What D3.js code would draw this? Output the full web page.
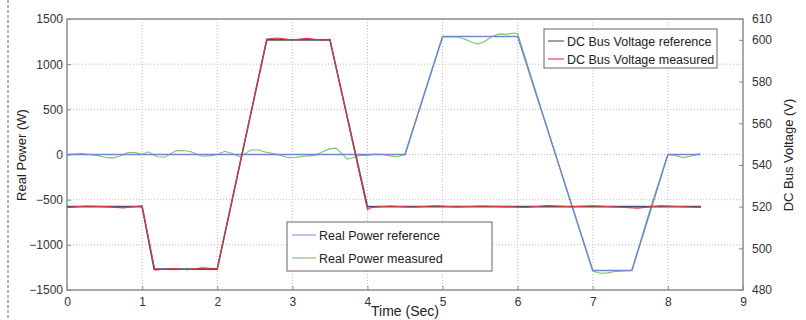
<!DOCTYPE html>
<html lang="en">
<head>
<meta charset="UTF-8">
<title>Real Power and DC Bus Voltage</title>
<script src="https://cdnjs.cloudflare.com/ajax/libs/d3/7.9.0/d3.min.js"></script>
<style>
    body { margin: 0; background: white; }
    svg { display: block; font-family: "Liberation Sans", Arial, sans-serif; }
    .tick text { fill: #333; font-size: 12px; }
</style>
</head>
<body>
<svg id="chart" width="806" height="320"></svg>
<script>
// axis ticks
const timeTicks = [0, 1, 2, 3, 4, 5, 6, 7, 8, 9];
const powerTicks = [-1500, -1000, -500, 0, 500, 1000, 1500];
const voltTicks = [480, 500, 520, 540, 560, 580, 600, 610];

// real power reference (W)
const powerRefTime = [0, 4.5, 5.0, 6.0, 7.0, 7.52, 8.0, 8.43];
const powerRefVal  = [0, 0, 1305, 1305, -1285, -1285, 0, 0];

// real power measured (W)
const powerMeasTime = [0, 0.1, 0.2, 0.3, 0.4, 0.5, 0.6, 0.7, 0.8, 0.9, 1.0, 1.08, 1.2, 1.3, 1.45, 1.55, 1.65, 1.8, 1.9, 2.0, 2.1, 2.2, 2.3,
    2.45, 2.55, 2.65, 2.75, 2.85, 2.95, 3.05, 3.2, 3.3, 3.4, 3.5, 3.58, 3.66, 3.73, 3.8, 3.9, 4.0, 4.1, 4.2, 4.3, 4.4, 4.5,
    4.75, 5.0, 5.2, 5.3, 5.4, 5.47, 5.55, 5.65, 5.75, 5.85, 5.95, 6.0, 6.5, 7.0, 7.1, 7.2, 7.3, 7.52, 7.75, 8.0, 8.1, 8.2, 8.3, 8.43];
const powerMeasVal  = [0, 5, 10, 0, -10, -30, -40, -20, 20, 25, 0, 30, -25, -30, 40, 45, 30, -20, -15, 0, 35, 10, -25,
    50, 50, 25, 10, -10, -35, -30, -15, -10, 30, 65, 70, 10, -50, -35, -10, -10, 5, 0, -15, -25, 0,
    650, 1300, 1300, 1275, 1240, 1225, 1245, 1300, 1335, 1330, 1345, 1340, 10, -1290, -1315, -1310, -1295, -1285, -640, 0, -10, -35, -20, 10];

// DC bus voltage reference (V)
const voltRefTime = [0, 1.0, 1.16, 2.0, 2.66, 3.5, 4.0, 8.44];
const voltRefVal  = [520, 520, 490, 490, 600, 600, 520, 520];

// DC bus voltage measured (V)
const voltMeasTime = [0, 0.25, 0.5, 0.75, 1.0, 1.17, 1.4, 1.6, 1.8, 2.0, 2.66, 2.8, 3.0, 3.2, 3.4, 3.5, 4.0, 4.05,
    4.3, 4.6, 4.9, 5.2, 5.5, 5.8, 6.1, 6.4, 6.7, 7.0, 7.3, 7.6, 7.9, 8.2, 8.44];
const voltMeasVal  = [519.5, 520.3, 520, 519.4, 520.4, 489.5, 490.3, 489.7, 490.6, 490.2, 600.4, 600.9, 600, 600.7, 599.8, 600.3, 518.5, 519.6,
    520.3, 519.7, 520.4, 519.8, 520.3, 520, 519.6, 520.5, 519.9, 520.4, 519.8, 519.3, 520.4, 519.9, 519.6];

const svg = d3.select('#chart');
const plotL = 67, plotR = 743, plotT = 19, plotB = 290;

const x = d3.scaleLinear().domain([0, 9]).range([plotL, plotR]);
const yP = d3.scaleLinear().domain([-1500, 1500]).range([plotB, plotT]);
const yV = d3.scaleLinear().domain([480, 610]).range([plotB, plotT]);

// page border on the left
svg.append('line')
    .attr('x1', 8).attr('x2', 8).attr('y1', 0).attr('y2', 320)
    .attr('stroke', '#8a9cc4').attr('stroke-width', 1.5)
    .attr('stroke-dasharray', '3,2');

// grid
const grid = svg.append('g');
grid.selectAll('.gx').data(timeTicks.slice(1, -1)).join('line')
    .attr('x1', d => x(d)).attr('x2', d => x(d))
    .attr('y1', plotT).attr('y2', plotB)
    .attr('stroke', '#bbb').attr('stroke-dasharray', '1,2');
grid.selectAll('.gy').data(powerTicks.slice(1, -1)).join('line')
    .attr('x1', plotL).attr('x2', plotR)
    .attr('y1', d => yP(d)).attr('y2', d => yP(d))
    .attr('stroke', '#bbb').attr('stroke-dasharray', '1,2');

// axes, matlab style ticks pointing in
const fmt = d3.format('d');
const xAxis = svg.append('g').attr('transform', `translate(0,${plotB})`)
    .call(d3.axisBottom(x).tickValues(timeTicks).tickFormat(fmt).tickSize(-4).tickPadding(7));
const yAxisL = svg.append('g').attr('transform', `translate(${plotL},0)`)
    .call(d3.axisLeft(yP).tickValues(powerTicks).tickFormat(fmt).tickSize(-4).tickPadding(4));
const yAxisR = svg.append('g').attr('transform', `translate(${plotR},0)`)
    .call(d3.axisRight(yV).tickValues(voltTicks).tickFormat(fmt).tickSize(-4).tickPadding(9));
[xAxis, yAxisL, yAxisR].forEach(a => {
    a.select('.domain').remove();
    a.selectAll('.tick line').attr('stroke', '#888');
});

// plot box
svg.append('rect')
    .attr('x', plotL).attr('y', plotT)
    .attr('width', plotR - plotL).attr('height', plotB - plotT)
    .attr('fill', 'none').attr('stroke', '#8c8c8c').attr('stroke-width', 1.5);

function drawLine(times, vals, yScale, color, width) {
    const pts = times.map((t, i) => [t, vals[i]]);
    svg.append('path')
        .datum(pts)
        .attr('fill', 'none')
        .attr('stroke', color)
        .attr('stroke-width', width)
        .attr('d', d3.line().x(d => x(d[0])).y(d => yScale(d[1])));
}

drawLine(powerMeasTime, powerMeasVal, yP, '#7cc46c', 1.1);
drawLine(powerRefTime, powerRefVal, yP, '#6d88cf', 1.5);
drawLine(voltRefTime, voltRefVal, yV, '#4a4f6a', 1.6);
drawLine(voltMeasTime, voltMeasVal, yV, '#e0393b', 1.1);

// axis labels
svg.append('text')
    .attr('x', 405).attr('y', 316)
    .attr('text-anchor', 'middle')
    .attr('font-size', 14).attr('fill', '#222')
    .text('Time (Sec)');
svg.append('text')
    .attr('transform', `translate(26,155) rotate(-90)`)
    .attr('text-anchor', 'middle')
    .attr('font-size', 13).attr('fill', '#222')
    .text('Real Power (W)');
svg.append('text')
    .attr('transform', `translate(793,155) rotate(-90)`)
    .attr('text-anchor', 'middle')
    .attr('font-size', 13).attr('fill', '#222')
    .text('DC Bus Voltage (V)');

// legends
function legend(x0, y0, w, h, items) {
    const g = svg.append('g').attr('transform', `translate(${x0},${y0})`);
    g.append('rect').attr('width', w).attr('height', h)
        .attr('fill', 'white').attr('stroke', '#666');
    items.forEach(it => {
        const yy = it.dy;
        g.append('line').attr('x1', it.lx).attr('x2', it.lx + it.lw)
            .attr('y1', yy).attr('y2', yy)
            .attr('stroke', it.color).attr('stroke-width', 1.2);
        g.append('text').attr('x', it.lx + it.lw + 3).attr('y', yy + 4.5)
            .attr('font-size', 12.5).attr('fill', '#222')
            .text(it.label);
    });
}
legend(544, 29, 173, 39, [
    {label: 'DC Bus Voltage reference', color: '#55607e', dy: 12, lx: 4, lw: 16},
    {label: 'DC Bus Voltage measured', color: '#e04848', dy: 30, lx: 4, lw: 16}
]);
legend(287, 222, 205, 49, [
    {label: 'Real Power reference', color: '#9a9ae8', dy: 13, lx: 5, lw: 24},
    {label: 'Real Power measured', color: '#8fbe8f', dy: 36, lx: 5, lw: 24}
]);
</script>
</body>
</html>
